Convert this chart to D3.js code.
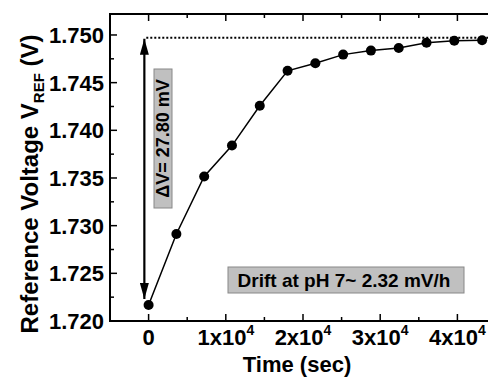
<!DOCTYPE html>
<html>
<head>
<meta charset="utf-8">
<script src="https://cdn.jsdelivr.net/npm/d3@7"></script>
<style>
body { margin: 0; background: #fff; }
text { font-family: "Liberation Sans", Arial, sans-serif; font-weight: bold; }
</style>
</head>
<body>
<div id="chart_area"></div>
<script>
var width = 488
var height = 378

// data: time (sec) and reference voltage (V)
var times = [0, 3600, 7200, 10800, 14400, 18000, 21600, 25200, 28800, 32400, 36000, 39600, 43200]
var voltages = [1.72167, 1.72913, 1.73516, 1.7384, 1.74258, 1.74624, 1.74704, 1.74794, 1.74836, 1.74864, 1.74919, 1.7494, 1.74945]
var xTicks = [0, 10000, 20000, 30000, 40000]
var yTicks = [1.720, 1.725, 1.730, 1.735, 1.740, 1.745, 1.750]
var deltaLabel = "ΔV= 27.80 mV"
var driftLabel = "Drift at pH 7~ 2.32 mV/h"
var refLevel = 1.7497

var pLeft = 110, pTop = 14, pRight = 496, pBottom = 321

var svg = d3.select("#chart_area")
  .append("svg")
  .attr("width", width)
  .attr("height", height)

var x = d3.scaleLinear().domain([-5000, 45000]).range([pLeft, pRight])
var y = d3.scaleLinear().domain([1.720, 1.7522]).range([pBottom, pTop])

var minorX = d3.range(-5000, 45001, 5000)
var minorY = d3.range(0, 13).map(i => 1.720 + i * 0.0025)

// inward ticks
svg.append("g").selectAll("line").data(minorX).join("line")
  .attr("x1", d => x(d)).attr("x2", d => x(d))
  .attr("y1", pBottom).attr("y2", d => pBottom - (d % 10000 === 0 ? 7 : 4))
  .attr("stroke", "black").attr("stroke-width", 1.5)
svg.append("g").selectAll("line").data(minorX).join("line")
  .attr("x1", d => x(d)).attr("x2", d => x(d))
  .attr("y1", pTop).attr("y2", d => pTop + (d % 10000 === 0 ? 7 : 4))
  .attr("stroke", "black").attr("stroke-width", 1.5)
svg.append("g").selectAll("line").data(minorY).join("line")
  .attr("x1", pLeft).attr("x2", (d, i) => pLeft + (i % 2 === 0 ? 7 : 4))
  .attr("y1", d => y(d)).attr("y2", d => y(d))
  .attr("stroke", "black").attr("stroke-width", 1.5)

// frame
svg.append("rect")
  .attr("x", pLeft).attr("y", pTop)
  .attr("width", pRight - pLeft).attr("height", pBottom - pTop)
  .attr("fill", "none").attr("stroke", "black").attr("stroke-width", 2)

// y tick labels
svg.append("g").selectAll("text").data(yTicks).join("text")
  .attr("x", pLeft - 6).attr("y", d => y(d)).attr("dy", "0.36em")
  .attr("text-anchor", "end").style("font-size", "22px")
  .text(d => d3.format(".3f")(d))

// x tick labels with superscript
var xl = svg.append("g").selectAll("text").data(xTicks).join("text")
  .attr("x", d => x(d)).attr("y", 345)
  .attr("text-anchor", "middle").style("font-size", "22px")
xl.each(function (d) {
  var t = d3.select(this)
  if (d === 0) { t.text("0"); return }
  t.append("tspan").text(d / 10000 + "x10")
  t.append("tspan").attr("dy", -10).style("font-size", "14px").text("4")
})

// axis titles
svg.append("text")
  .attr("x", 297).attr("y", 372)
  .attr("text-anchor", "middle").style("font-size", "22px")
  .text("Time (sec)")

var yt = svg.append("text")
  .attr("transform", "translate(38,184) rotate(-90)")
  .attr("text-anchor", "middle").style("font-size", "24px")
yt.append("tspan").text("Reference Voltage V")
yt.append("tspan").attr("dy", 6).style("font-size", "15px").text("REF")
yt.append("tspan").attr("dy", -6).text(" (V)")

// dotted reference line
svg.append("line")
  .attr("x1", x(-300)).attr("x2", pRight)
  .attr("y1", y(refLevel)).attr("y2", y(refLevel))
  .attr("stroke", "black").attr("stroke-width", 2)
  .attr("stroke-dasharray", "2,2")

// double arrow
svg.append("defs").append("marker").attr("id", "ah")
  .attr("viewBox", "0 0 10 10").attr("refX", 10).attr("refY", 5)
  .attr("markerWidth", 16).attr("markerHeight", 9)
  .attr("markerUnits", "userSpaceOnUse")
  .attr("preserveAspectRatio", "none")
  .attr("orient", "auto-start-reverse")
  .append("path").attr("d", "M0,0L10,5L0,10Z").attr("fill", "black")
svg.append("line")
  .attr("x1", x(-550)).attr("x2", x(-550))
  .attr("y1", y(refLevel) + 1).attr("y2", y(voltages[0]) - 6)
  .attr("stroke", "black").attr("stroke-width", 2.2)
  .attr("marker-start", "url(#ah)").attr("marker-end", "url(#ah)")

// line + markers
svg.append("path")
  .datum(times.map((t, i) => [t, voltages[i]]))
  .attr("d", d3.line().x(d => x(d[0])).y(d => y(d[1])))
  .attr("fill", "none").attr("stroke", "black").attr("stroke-width", 1.5)
svg.append("g").selectAll("circle").data(times).join("circle")
  .attr("cx", d => x(d)).attr("cy", (d, i) => y(voltages[i]))
  .attr("r", 5).attr("fill", "black")

// ΔV label box (rotated)
svg.append("rect")
  .attr("x", 154).attr("y", 69).attr("width", 18).attr("height", 139)
  .attr("fill", "#c0c0c0").attr("stroke", "#888").attr("stroke-width", 1)
svg.append("text")
  .attr("transform", "translate(163,138.5) rotate(-90)")
  .attr("text-anchor", "middle").attr("dy", "0.36em")
  .style("font-size", "18px")
  .text(deltaLabel)

// drift label box
svg.append("rect")
  .attr("x", 228).attr("y", 267).attr("width", 236).attr("height", 26)
  .attr("fill", "#c0c0c0").attr("stroke", "#888").attr("stroke-width", 1)
svg.append("text")
  .attr("x", 344).attr("y", 280).attr("dy", "0.36em")
  .attr("text-anchor", "middle").style("font-size", "19px")
  .text(driftLabel)
</script>
</body>
</html>
